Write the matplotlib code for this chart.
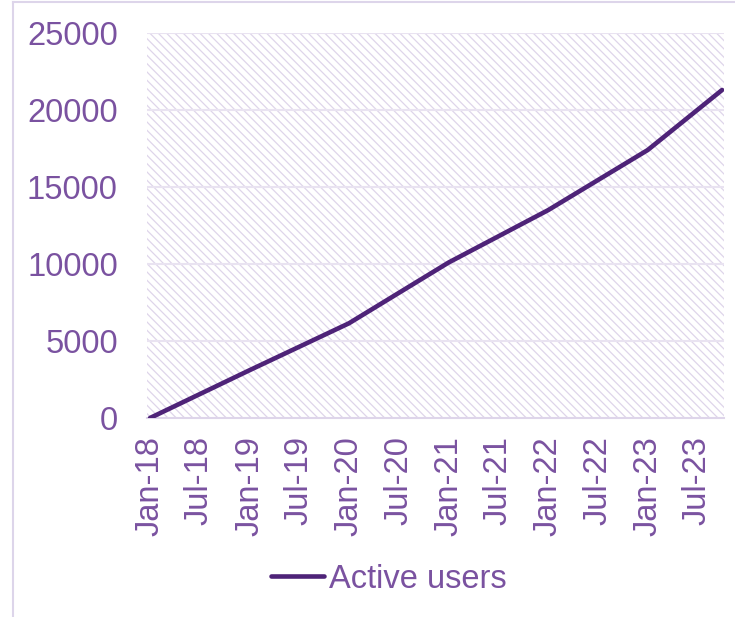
import datetime as dt

import matplotlib

matplotlib.use("Agg")

import matplotlib.dates as mdates
import matplotlib.pyplot as plt
from matplotlib.lines import Line2D
from matplotlib.patches import Rectangle

plt.rcParams["font.family"] = ["Liberation Sans", "DejaVu Sans"]
plt.rcParams["hatch.linewidth"] = 0.9

dates = [
    dt.date(2018, 1, 1),
    dt.date(2019, 1, 1),
    dt.date(2020, 1, 1),
    dt.date(2021, 1, 1),
    dt.date(2022, 1, 1),
    dt.date(2023, 1, 1),
    dt.date(2023, 10, 1),
]
active_users = [0, 3100, 6150, 10100, 13500, 17400, 21300]
y_ticks = [0, 5000, 10000, 15000, 20000, 25000]

LINE = "#4e2378"
TEXT = "#7a52a0"
GRID = "#e9e3f1"
HATCH = "#ded5ea"

fig = plt.figure(figsize=(7.35, 6.17), dpi=100)
ax = fig.add_axes([147 / 735, 1 - 418 / 617, (724 - 147) / 735, (418 - 33) / 617])

bg = Rectangle((0, 0), 1, 1, transform=ax.transAxes, facecolor="white",
               edgecolor=HATCH, hatch="\\\\\\\\", linewidth=0, zorder=0)
ax.add_patch(bg)

for y in y_ticks[1:]:
    ax.axhline(y, color=GRID, linewidth=1.5, zorder=1)

ax.plot(dates, active_users, color=LINE, linewidth=3.3, solid_capstyle="round",
        label="Active users", zorder=3)

ax.set_ylim(0, 25000)
ax.set_yticks(y_ticks)
ax.set_xlim(dt.date(2017, 12, 21), dt.date(2023, 10, 8))
ax.xaxis.set_major_locator(mdates.MonthLocator(bymonth=(1, 7)))
ax.xaxis.set_major_formatter(mdates.DateFormatter("%b-%y"))

for side in ("top", "right", "left"):
    ax.spines[side].set_visible(False)
ax.spines["bottom"].set_color(HATCH)
ax.spines["bottom"].set_linewidth(1.5)

ax.tick_params(axis="y", length=0, pad=21, labelsize=23.5, labelcolor=TEXT)
ax.tick_params(axis="x", length=0, pad=13, labelsize=23.5, labelcolor=TEXT,
               labelrotation=90)

leg = fig.legend(loc="center", bbox_to_anchor=(0.529, 0.061), frameon=False,
                 fontsize=23.5, handlelength=1.6, handletextpad=0.15)
for t in leg.get_texts():
    t.set_color(TEXT)

# chart frame
fig.add_artist(Line2D([13 / 735, 13 / 735], [0, 1 - 2 / 617], color="#ddd5ea",
                      linewidth=1.5))
fig.add_artist(Line2D([13 / 735, 1], [1 - 2 / 617, 1 - 2 / 617], color="#ddd5ea",
                      linewidth=1.5))

fig.savefig("out.png", dpi=100)
